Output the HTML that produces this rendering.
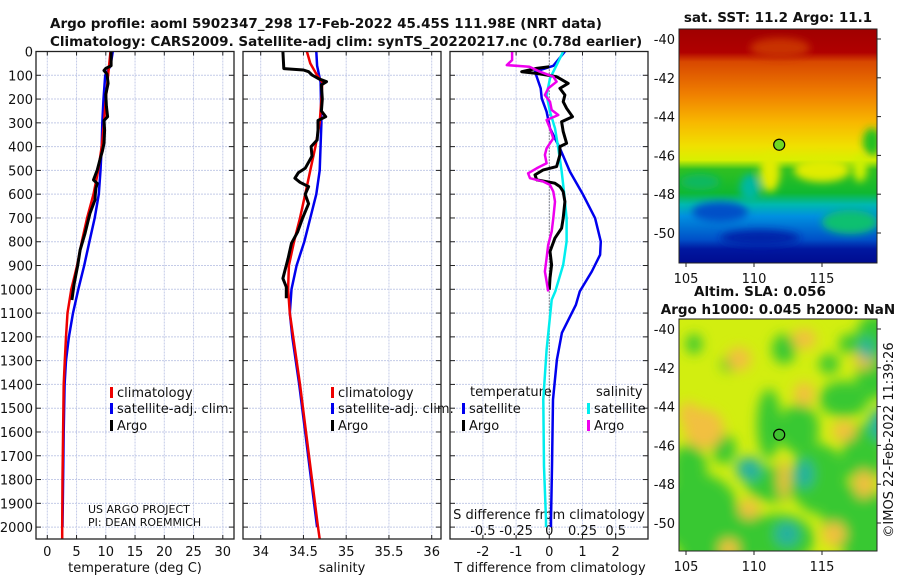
<!DOCTYPE html>
<html><head><meta charset="utf-8"><style>
body{margin:0;background:#fff;}
#root{position:relative;width:900px;height:580px;overflow:hidden;background:#fff;font-family:"DejaVu Sans","Liberation Sans",sans-serif;}
svg text{font-family:"DejaVu Sans","Liberation Sans",sans-serif;}
</style></head><body>
<div id="root">
<svg id="chart" width="900" height="580"></svg>
</div>
<script>
// ---- data ----
const depthTicks=[0,100,200,300,400,500,600,700,800,900,1000,1100,1200,1300,1400,1500,1600,1700,1800,1900,2000];
const tempTicks=[0,5,10,15,20,25,30];
const salTicks=[34,34.5,35,35.5,36];
const salTickLabels=["34","34.5","35","35.5","36"];
const tdTicks=[-2,-1,0,1,2];
const sdTicks=[-0.5,-0.25,0,0.25,0.5];
const sdTickLabels=["-0.5","-0.25","0","0.25","0.5"];

const tClimDepth=[0,50,100,200,300,400,500,600,700,800,900,1000,1100,1200,1300,1400,1600,1800,2000,2050];
const tClimVal=[10.8,10.6,10.4,10.0,9.7,9.3,8.7,7.9,6.8,5.9,5.1,4.1,3.45,3.2,3.0,2.8,2.7,2.6,2.55,2.55];
const tSatDepth=[0,60,100,200,300,400,500,600,700,800,900,1000,1100,1200,1300,1400,1600,1800,2000];
const tSatVal=[11.2,10.8,9.9,9.6,9.4,9.3,9.1,8.8,8.1,7.2,6.3,5.3,4.4,3.7,3.2,2.95,2.8,2.7,2.6];
const tArgoDepth=[0,60,71,80,95,134,180,230,274,290,330,386,420,456,498,540,555,575,600,624,680,765,835,900,975,1045];
const tArgoVal=[10.9,10.9,10.0,9.7,10.2,10.4,10.0,10.1,10.3,9.7,9.8,9.7,9.4,9.0,8.55,7.9,8.55,8.3,8.2,8.15,7.3,6.45,5.6,5.2,4.6,4.2];

const sClimDepth=[0,50,100,130,200,300,400,500,600,700,800,900,1000,1100,1200,1400,1600,1800,2000,2050];
const sClimVal=[34.54,34.58,34.66,34.72,34.71,34.69,34.64,34.58,34.52,34.46,34.39,34.33,34.32,34.34,34.38,34.46,34.53,34.6,34.67,34.69];
const sSatDepth=[0,60,130,300,500,600,700,800,900,1000,1100,1200,1400,1600,1800,2000];
const sSatVal=[34.65,34.66,34.7,34.71,34.69,34.65,34.58,34.51,34.42,34.36,34.34,34.37,34.45,34.52,34.59,34.66];
const sArgoDepth=[0,72,78,85,99,115,127,140,200,250,274,290,330,372,400,440,491,510,533,550,568,600,640,700,760,806,870,954,990,1038];
const sArgoVal=[34.26,34.27,34.5,34.56,34.6,34.68,34.77,34.71,34.72,34.71,34.76,34.67,34.67,34.66,34.59,34.6,34.52,34.44,34.4,34.46,34.56,34.52,34.56,34.49,34.43,34.36,34.32,34.26,34.3,34.3];

const dTSatDepth=[0,60,85,155,197,253,323,407,505,603,701,799,855,925,1009,1065,1183,1296,1464,1745,1969,2000];
const dTSatVal=[0.47,0.12,-0.43,-0.26,-0.23,-0.08,0.02,0.32,0.62,1.02,1.38,1.55,1.53,1.28,0.92,0.8,0.38,0.23,0.11,0.08,0.05,0.05];
const dTArgoDepth=[64,71,85,92,106,134,155,183,211,239,274,295,337,386,400,435,484,498,519,540,554,568,589,631,701,743,785,841,897,953,1002];
const dTArgoVal=[0,-0.38,-0.83,-0.38,0.22,0.57,0.32,0.47,0.42,0.52,0.7,0.37,0.42,0.52,0.32,0.32,0.22,-0.18,-0.43,-0.38,0.17,0.32,0.42,0.47,0.42,0.37,0.17,0.02,0.07,0.02,0.0];
const dSSatDepth=[0,57,113,183,253,323,407,505,603,701,799,897,1009,1044,1254,1464,1745,1969,2000];
const dSSatVal=[0.105,0.055,0.005,-0.02,0.005,0.043,0.068,0.093,0.113,0.13,0.13,0.105,0.045,0.018,-0.02,-0.045,-0.04,-0.025,-0.025];
const dSArgoDepth=[0,36,57,64,85,106,127,155,183,211,246,267,288,323,365,407,435,470,491,512,533,547,561,589,631,701,757,813,869,925,967,1009];
const dSArgoVal=[-0.28,-0.28,-0.32,-0.15,-0.07,0.03,0.055,-0.008,-0.033,0.005,0.018,0.068,-0.02,0.005,0.03,-0.02,-0.033,-0.02,-0.095,-0.16,-0.145,-0.045,0.005,0.03,0.043,0.03,0.018,-0.008,-0.02,-0.033,-0.02,-0.008];

// ---- geometry ----
const NS="http://www.w3.org/2000/svg";
const svg=document.getElementById('chart');
const yTop=51.5, pxPerM=0.2378, yBot=539;
function yD(d){return yTop+d*pxPerM;}
const P1={x0:36,x1:234}, P2={x0:243,x1:441}, P3={x0:450,x1:648};
function xT(v){return 47.3+v*5.85;}
function xS(v){return 260.7+(v-34)*85.5;}
function xDT(v){return 549.3+v*33.2;}
function xDS(v){return 549.3+v*132.8;}
function mk(tag,attrs,parent){const e=document.createElementNS(NS,tag);for(const k in attrs)e.setAttribute(k,attrs[k]);(parent||svg).appendChild(e);return e;}
function txt(s,x,y,size,anchor,weight,parent){const t=mk('text',{x:x,y:y,'font-size':size,'text-anchor':anchor||'start','font-weight':weight||'normal',fill:'#111'},parent);t.textContent=s;return t;}

const defs=mk('defs',{});
[P1,P2,P3].forEach((p,i)=>{const c=mk('clipPath',{id:'clip'+i},defs);mk('rect',{x:p.x0,y:yTop,width:p.x1-p.x0,height:yBot-yTop},c);});
const f1=mk('filter',{id:'blur1',x:'-50%',y:'-50%',width:'200%',height:'200%'},defs);mk('feGaussianBlur',{stdDeviation:4},f1);
const f2=mk('filter',{id:'blur2',x:'-50%',y:'-50%',width:'200%',height:'200%'},defs);mk('feGaussianBlur',{stdDeviation:6},f2);

function panel(p,idx,xf,ticks,name){
  const g=mk('g',{});
  
  
  ticks.forEach(v=>{const x=xf(v);if(x>p.x0&&x<p.x1){const l=mk('line',{x1:x,x2:x,y1:yTop,y2:yBot,stroke:'#c4cbe8','stroke-width':1,'stroke-dasharray':'2,1'},g);
    mk('line',{x1:x,x2:x,y1:yBot,y2:yBot-4,stroke:'#222'},g);mk('line',{x1:x,x2:x,y1:yTop,y2:yTop+4,stroke:'#222'},g);}});
  depthTicks.forEach(d=>{const y=yD(d);const l=mk('line',{x1:p.x0,x2:p.x1,y1:y,y2:y,stroke:'#c4cbe8','stroke-width':1,'stroke-dasharray':'2,1'},g);
    mk('line',{x1:p.x0,x2:p.x0+5,y1:y,y2:y,stroke:'#222'},g);mk('line',{x1:p.x1,x2:p.x1-5,y1:y,y2:y,stroke:'#222'},g);});
  return g;
}
function frame(p,name){const r=mk('rect',{x:p.x0,y:yTop,width:p.x1-p.x0,height:yBot-yTop,fill:'none',stroke:'#222','stroke-width':1.3});}
function line(depths,vals,xf,color,w,idx,name){
  let pts=depths.map((d,i)=>xf(vals[i]).toFixed(1)+','+yD(d).toFixed(1)).join(' ');
  const pl=mk('polyline',{points:pts,fill:'none',stroke:color,'stroke-width':w,'stroke-linejoin':'round','clip-path':'url(#clip'+idx+')'});
  
  
}

panel(P1,0,xT,tempTicks,'temperature-panel-grid');
panel(P2,1,xS,salTicks,'salinity-panel-grid');
panel(P3,2,xDT,tdTicks,'difference-panel-grid');

depthTicks.forEach(d=>{const t=txt(String(d),33,yD(d)+5,13,'end');});
tempTicks.forEach(v=>{const t=txt(String(v),xT(v),556,13,'middle');});
salTicks.forEach((v,i)=>{const t=txt(salTickLabels[i],xS(v),556,13,'middle');});
tdTicks.forEach(v=>{const t=txt(String(v),xDT(v),556,13,'middle');});

function leg(x,y,color,label,name){const r=mk('rect',{x:x,y:y-10,width:3,height:11,fill:color});const t=txt(label,x+7,y,13,'start');}
leg(110,397,'#ee0000','climatology','legend-climatology-temp');
leg(110,413,'#0000ee','satellite-adj. clim.','legend-satellite-temp');
leg(110,430,'#000','Argo','legend-argo-temp');
leg(331,397,'#ee0000','climatology','legend-climatology-sal');
leg(331,413,'#0000ee','satellite-adj. clim.','legend-satellite-sal');
leg(331,430,'#000','Argo','legend-argo-sal');
let t;
t=txt('temperature',470,396,13,'start');
t=txt('salinity',596,396,13,'start');
leg(462,413,'#0000ee','satellite','legend-tdiff-satellite');
leg(462,430,'#000','Argo','legend-tdiff-argo');
leg(587,413,'#00eeee','satellite','legend-sdiff-satellite');
leg(587,430,'#ee00ee','Argo','legend-sdiff-argo');
t=txt('US ARGO PROJECT',88,513,11,'start');
t=txt('PI: DEAN ROEMMICH',88,526,11,'start');
t=txt('S difference from climatology',549,519,13,'middle');
sdTicks.forEach((v,i)=>{const tt=txt(sdTickLabels[i],xDS(v),535,13,'middle');});

const z=mk('line',{x1:xDT(0),x2:xDT(0),y1:yTop,y2:yBot,stroke:'#333','stroke-width':1,'stroke-dasharray':'1,2'});


line(tSatDepth,tSatVal,xT,'#0000ee',2.5,0,'temp-satellite-line');
line(tClimDepth,tClimVal,xT,'#ee0000',2.5,0,'temp-climatology-line');
line(tArgoDepth,tArgoVal,xT,'#000',3,0,'temp-argo-line');
line(sSatDepth,sSatVal,xS,'#0000ee',2.5,1,'sal-satellite-line');
line(sClimDepth,sClimVal,xS,'#ee0000',2.5,1,'sal-climatology-line');
line(sArgoDepth,sArgoVal,xS,'#000',3,1,'sal-argo-line');
line(dTSatDepth,dTSatVal,xDT,'#0000ee',2.5,2,'tdiff-satellite-line');
line(dSSatDepth,dSSatVal,xDS,'#00eeee',2.5,2,'sdiff-satellite-line');
line(dTArgoDepth,dTArgoVal,xDT,'#000',3,2,'tdiff-argo-line');
line(dSArgoDepth,dSArgoVal,xDS,'#ee00ee',2.5,2,'sdiff-argo-line');

frame(P1,'temperature-panel');frame(P2,'salinity-panel');frame(P3,'difference-panel');

t=txt('Argo profile: aoml 5902347_298 17-Feb-2022 45.45S 111.98E (NRT data)',50,28,13.5,'start','bold');
t=txt('Climatology: CARS2009. Satellite-adj clim: synTS_20220217.nc (0.78d earlier)',50,46,13.5,'start','bold');
t=txt('temperature (deg C)',135,572,13,'middle');
t=txt('salinity',342,572,13,'middle');
t=txt('T difference from climatology',550,572,13,'middle');

// ---- maps ----
const M1={x:679,y:29,w:198,h:234}, M2={x:679,y:319,w:198,h:232};
const lonTicks=[105,110,115];
const latTicks=[-40,-42,-44,-46,-48,-50];
function xLon(v){return 686+(v-105)*13.6;}
function yLat1(v){return 39+(-40-v)*19.4;}
function yLat2(v){return 329+(-40-v)*19.4;}

const m1=mk('g',{});
const g1=mk('linearGradient',{id:'sstg',x1:0,y1:0,x2:0,y2:1},defs);
[[0,'#a00000'],[0.1,'#b00000'],[0.14,'#d84800'],[0.28,'#f08000'],[0.4,'#f8b800'],[0.5,'#f0e000'],[0.56,'#d8f000'],[0.6,'#30c020'],[0.7,'#10b830'],[0.75,'#00b8b0'],[0.8,'#0090e0'],[0.9,'#0050c8'],[0.94,'#0018a0'],[1,'#000c90']].forEach(s=>mk('stop',{offset:s[0],'stop-color':s[1]},g1));
const cm1=mk('clipPath',{id:'cm1'},defs);mk('rect',{x:M1.x,y:M1.y,width:M1.w,height:M1.h},cm1);
const mg1=mk('g',{'clip-path':'url(#cm1)'},m1);
mk('rect',{x:M1.x,y:M1.y,width:M1.w,height:M1.h,fill:'url(#sstg)'},mg1);
const bl1=mk('g',{filter:'url(#blur1)'},mg1);
[[770,172,10,20,'#e0ec00'],[822,170,28,12,'#e0ec00'],[860,168,7,14,'#d0f000'],[872,142,9,14,'#20c020'],[750,188,10,14,'#00b8a0'],[850,222,28,12,'#10c070'],[720,212,28,10,'#0050c8'],[780,48,30,10,'#c83000'],[760,238,40,8,'#0020a8'],[700,182,20,8,'#10b860']].forEach(b=>mk('ellipse',{cx:b[0],cy:b[1],rx:b[2],ry:b[3],fill:b[4]},bl1));
mk('rect',{x:M1.x,y:M1.y,width:M1.w,height:M1.h,fill:'none',stroke:'#222'},m1);
const c1=mk('circle',{cx:xLon(112)-2,cy:yLat1(-45.45),r:5.5,fill:'#70d820',stroke:'#000','stroke-width':1.2},m1);


const m2=mk('g',{});
const cm2=mk('clipPath',{id:'cm2'},defs);mk('rect',{x:M2.x,y:M2.y,width:M2.w,height:M2.h},cm2);
const mg2=mk('g',{'clip-path':'url(#cm2)'},m2);
mk('rect',{x:M2.x,y:M2.y,width:M2.w,height:M2.h,fill:'#d2ee10'},mg2);
const bl2=mk('g',{filter:'url(#blur2)'},mg2);
function blob(cx,cy,rx,ry,col){mk('ellipse',{cx:M2.x+cx,cy:M2.y+cy,rx:rx,ry:ry,fill:col},bl2);}
[[20,195,40,40],[60,210,30,22],[100,220,35,25],[178,200,35,35],[190,230,25,20],[90,105,12,35],[120,110,20,25],[165,80,25,18],[195,55,18,25],[10,150,18,25],[45,130,12,15],[95,165,28,18],[140,160,28,35],[185,135,22,30],[40,235,40,15],[105,30,12,15],[195,20,18,25],[15,25,8,10],[50,45,8,8],[150,45,10,10],[170,25,10,10]].forEach(b=>blob(b[0],b[1],b[2],b[3],'#38c830'));
[[25,110,20,20],[60,40,12,12],[125,75,10,12],[165,112,12,10],[185,165,10,14],[70,190,10,10],[155,215,12,12],[105,160,6,20],[50,230,10,10],[125,20,12,10],[185,40,10,10],[10,95,10,12]].forEach(b=>blob(b[0],b[1],b[2],b[3],'#f2c040'));
[[70,150,13,12],[203,105,13,16],[108,215,12,12],[125,155,9,14],[187,30,7,12]].forEach(b=>blob(b[0],b[1],b[2],b[3],'#28b0a0'));
mk('rect',{x:M2.x,y:M2.y,width:M2.w,height:M2.h,fill:'none',stroke:'#222'},m2);
const c2=mk('circle',{cx:xLon(112)-2,cy:yLat2(-45.45),r:5.5,fill:'#40c030',stroke:'#000','stroke-width':1.2},m2);


[[M1,yLat1],[M2,yLat2]].forEach(([M,yf])=>{
  latTicks.forEach(v=>{const y=yf(v);mk('line',{x1:M.x+M.w,x2:M.x+M.w+4,y1:y,y2:y,stroke:'#222'});const tt=txt(String(v),M.x-4,y+5,13,'end');});
  lonTicks.forEach(v=>{const x=xLon(v);mk('line',{x1:x,x2:x,y1:M.y+M.h,y2:M.y+M.h+4,stroke:'#222'});const tt=txt(String(v),x,M.y+M.h+20,13,'middle');});
});
t=txt('sat. SST: 11.2 Argo: 11.1',778,22,13.5,'middle','bold');
t=txt('Altim. SLA: 0.056',760,296,13.5,'middle','bold');
t=txt('Argo h1000: 0.045 h2000: NaN',778,314,13.5,'middle','bold');
t=txt('©IMOS 22-Feb-2022 11:39:26',0,0,13,'middle');t.setAttribute('transform','translate(893,440) rotate(-90)');
</script>
</body></html>
